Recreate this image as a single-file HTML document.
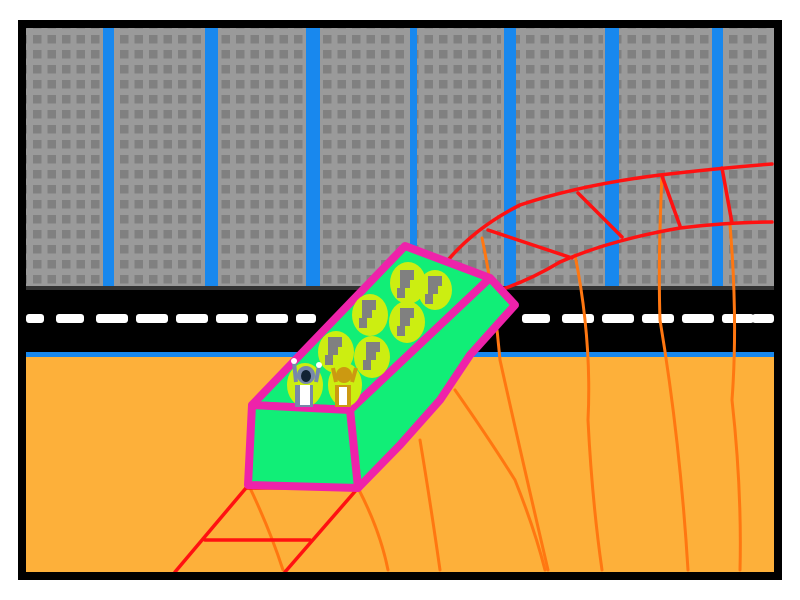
<!DOCTYPE html>
<html><head><style>body{margin:0;background:#fff}svg{display:block}</style></head><body>
<svg width="800" height="600" viewBox="0 0 800 600" xmlns="http://www.w3.org/2000/svg">
<defs>
<pattern id="win" x="0" y="0" width="14.5" height="15" patternUnits="userSpaceOnUse">
<rect x="4" y="5" width="8.5" height="8.5" fill="#808080"/>
</pattern>
</defs>
<rect width="800" height="600" fill="#fff"/>
<rect x="26" y="28" width="748" height="260" fill="#1888ee"/>
<g>
<rect x="26" y="28" width="77" height="258" fill="#9a9a9a"/>
<rect x="114" y="28" width="91" height="258" fill="#9a9a9a"/>
<rect x="218" y="28" width="88" height="258" fill="#9a9a9a"/>
<rect x="320" y="28" width="90" height="258" fill="#9a9a9a"/>
<rect x="417" y="28" width="87" height="258" fill="#9a9a9a"/>
<rect x="516" y="28" width="89" height="258" fill="#9a9a9a"/>
<rect x="619" y="28" width="93" height="258" fill="#9a9a9a"/>
<rect x="723" y="28" width="51" height="258" fill="#9a9a9a"/>
<rect x="26" y="28" width="74" height="256" fill="url(#win)"/>
<rect x="114" y="28" width="88" height="256" fill="url(#win)"/>
<rect x="218" y="28" width="86" height="256" fill="url(#win)"/>
<rect x="320" y="28" width="88" height="256" fill="url(#win)"/>
<rect x="417" y="28" width="84" height="256" fill="url(#win)"/>
<rect x="516" y="28" width="87" height="256" fill="url(#win)"/>
<rect x="619" y="28" width="90" height="256" fill="url(#win)"/>
<rect x="723" y="28" width="49" height="256" fill="url(#win)"/>
</g>
<rect x="26" y="286" width="748" height="4" fill="#333"/>
<rect x="26" y="290" width="748" height="62" fill="#000"/>
<g fill="#fff">
<rect x="26" y="314" width="18" height="9" rx="3"/>
<rect x="56" y="314" width="28" height="9" rx="3"/>
<rect x="96" y="314" width="32" height="9" rx="3"/>
<rect x="136" y="314" width="32" height="9" rx="3"/>
<rect x="176" y="314" width="32" height="9" rx="3"/>
<rect x="216" y="314" width="32" height="9" rx="3"/>
<rect x="256" y="314" width="32" height="9" rx="3"/>
<rect x="296" y="314" width="20" height="9" rx="3"/>
<rect x="522" y="314" width="28" height="9" rx="3"/>
<rect x="562" y="314" width="32" height="9" rx="3"/>
<rect x="602" y="314" width="32" height="9" rx="3"/>
<rect x="642" y="314" width="32" height="9" rx="3"/>
<rect x="682" y="314" width="32" height="9" rx="3"/>
<rect x="722" y="314" width="32" height="9" rx="3"/>
<rect x="752" y="314" width="22" height="9" rx="3"/>
</g>
<rect x="26" y="352" width="748" height="5" fill="#1888ee"/>
<rect x="26" y="357" width="748" height="215" fill="#fdb03a"/>
<g fill="none" stroke="#ff7711" stroke-width="3" stroke-linecap="round">
<path d="M482 238 Q495 300 500 360 Q520 450 548 570"/>
<path d="M575 255 Q592 340 588 420 Q592 500 602 570"/>
<path d="M662 175 Q658 260 660 320 Q680 440 688 570"/>
<path d="M730 225 Q738 320 732 400 Q742 490 740 570"/>
<path d="M455 390 Q490 440 515 480 Q535 530 545 570"/>
<path d="M420 440 Q430 500 440 570"/>
<path d="M358 488 Q380 530 388 570"/>
<path d="M250 488 Q270 530 283 570"/>
</g>
<g fill="none" stroke="#ff1111" stroke-width="3.5" stroke-linecap="round">
<path d="M440 270 Q470 230 520 205 Q580 185 660 175 Q720 168 772 164"/>
<path d="M500 290 Q530 280 560 262 Q610 240 680 228 Q730 222 772 222"/>
<path d="M488 230 L572 258"/>
<path d="M578 193 L622 237"/>
<path d="M662 176 L680 226"/>
<path d="M722 168 L732 223"/>
<path d="M246 488 L175 572"/>
<path d="M358 488 L285 572"/>
<path d="M205 540 L310 540"/>
<path d="M246 488 L358 488"/>
</g>
<g stroke="#ee22aa" stroke-width="8" stroke-linejoin="round" fill="#11ee77">
<path d="M252 405 L300 355 L405 246 L490 278 L350 410 Z"/>
<path d="M490 278 L515 305 L470 355 L440 400 L400 445 L358 488 L350 410 Z"/>
<path d="M252 405 L350 410 L358 488 L248 485 Z"/>
</g>
<g fill="#ccee11">
<ellipse cx="408" cy="283" rx="18" ry="21"/>
<ellipse cx="435" cy="290" rx="17" ry="20"/>
<ellipse cx="370" cy="315" rx="18" ry="21"/>
<ellipse cx="407" cy="322" rx="18" ry="21"/>
<ellipse cx="336" cy="352" rx="18" ry="21"/>
<ellipse cx="372" cy="357" rx="18" ry="21"/>
<ellipse cx="305" cy="385" rx="18" ry="22"/>
<ellipse cx="345" cy="385" rx="17" ry="22"/>
</g>
<g fill="#808080">
<path d="M400 270 h14 v10 h-4 v8 h-5 v10 h-8 v-10 h3 z"/>
<path d="M428 276 h14 v10 h-4 v8 h-5 v10 h-8 v-10 h3 z"/>
<path d="M362 300 h14 v10 h-4 v8 h-5 v10 h-8 v-10 h3 z"/>
<path d="M400 308 h14 v10 h-4 v8 h-5 v10 h-8 v-10 h3 z"/>
<path d="M328 337 h14 v10 h-4 v8 h-5 v10 h-8 v-10 h3 z"/>
<path d="M366 342 h14 v10 h-4 v8 h-5 v10 h-8 v-10 h3 z"/>
</g>
<g>
<rect x="295" y="385" width="18" height="22" fill="#7788aa"/>
<ellipse cx="306" cy="375" rx="9" ry="9" fill="#7788aa"/>
<ellipse cx="306" cy="376" rx="5" ry="6" fill="#112233"/>
<rect x="300" y="385" width="10" height="20" fill="#fff"/>
<path d="M296 382 L294 362 M316 382 L319 366" stroke="#7788aa" stroke-width="4"/>
<circle cx="294" cy="361" r="3" fill="#fff"/><circle cx="319" cy="365" r="3" fill="#fff"/>
<rect x="335" y="385" width="16" height="22" fill="#cc9911"/>
<ellipse cx="344" cy="375" rx="8" ry="8" fill="#cc9911"/>
<rect x="339" y="387" width="8" height="18" fill="#fff"/>
<path d="M336 382 L333 368 M352 382 L356 368" stroke="#cc9911" stroke-width="4"/>
</g>
<rect x="22" y="24" width="756" height="552" fill="none" stroke="#000" stroke-width="8"/>
</svg>
</body></html>
